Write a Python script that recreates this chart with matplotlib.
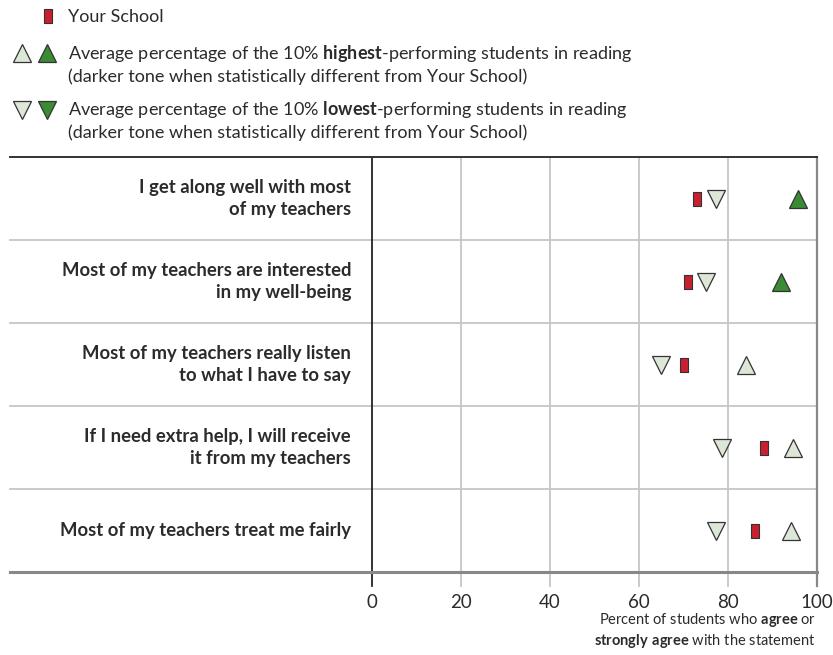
import matplotlib
matplotlib.use("Agg")
import matplotlib.pyplot as plt
from matplotlib.path import Path

plt.rcParams["font.family"] = ["Lato", "DejaVu Sans"]
plt.rcParams["mathtext.fontset"] = "custom"
plt.rcParams["mathtext.rm"] = "Lato"
plt.rcParams["mathtext.bf"] = "Lato:bold"

# data
statements = [
    "I get along well with most\nof my teachers",
    "Most of my teachers are interested\nin my well-being",
    "Most of my teachers really listen\nto what I have to say",
    "If I need extra help, I will receive\nit from my teachers",
    "Most of my teachers treat me fairly",
]
your_school = [73.0, 71.1, 70.0, 88.0, 86.0]
top10 = [95.7, 91.8, 84.0, 94.6, 94.1]
bottom10 = [77.4, 75.1, 64.9, 78.7, 77.2]
top10_sig = [True, True, False, False, False]
bottom10_sig = [False, False, False, False, False]
xticks = [0, 20, 40, 60, 80, 100]

RED = "#c8202f"
LIGHT = "#dde7d7"
DARK = "#3b8a34"
EDGE = "#333333"
GRID = "#c4c8c4"
TXT = "#2b2b2b"

W, H = 833, 655
fig = plt.figure(figsize=(W / 100, H / 100), dpi=100)

# main axes: x 372..817 px, y 157..572 px
ax = fig.add_axes([372 / W, 1 - 572 / H, 445 / W, 415 / H])
ax.set_xlim(0, 100)
ax.set_ylim(len(statements), 0)
ax.axis("off")

rect = Path([(-0.27, -0.5), (0.27, -0.5), (0.27, 0.5), (-0.27, 0.5), (-0.27, -0.5)],
            [Path.MOVETO, Path.LINETO, Path.LINETO, Path.LINETO, Path.CLOSEPOLY])

left = (10 - 372) / 445
n = len(statements)
tick_len = 0.17

# row separators
for i in range(1, n):
    ax.plot([left, 1], [i, i], transform=ax.get_yaxis_transform(), color=GRID, lw=1.3,
            clip_on=False, zorder=1)
ax.plot([left, 1], [0, 0], transform=ax.get_yaxis_transform(), color="#333333", lw=1.4,
        clip_on=False, zorder=2)
ax.plot([left, 1], [n, n], transform=ax.get_yaxis_transform(), color="#888888", lw=2.2,
        clip_on=False, zorder=2)

# vertical grid lines with tick stubs
for t in xticks:
    if t == 0:
        c, lw = "#111111", 1.2
    elif t == 100:
        c, lw = "#888888", 1.6
    else:
        c, lw = GRID, 1.3
    ax.plot([t, t], [0, n + tick_len], color=c, lw=lw, clip_on=False, zorder=1.5)
    ax.text(t, n + 0.37, str(t), ha="center", va="center", fontsize=13.5, color=TXT)

for i, s in enumerate(statements):
    y = i + 0.5
    ax.text(-0.047, y, s, transform=ax.get_yaxis_transform(), ha="right", va="center",
            multialignment="right", fontsize=13.3, fontweight="bold", color=TXT,
            linespacing=1.3)
    ax.plot(your_school[i], y, marker=rect, ms=15 / 1.389, mfc=RED, mec=EDGE, mew=0.8,
            ls="none", zorder=5)
    ax.plot(top10[i], y, marker="^", ms=13, mfc=DARK if top10_sig[i] else LIGHT,
            mec=EDGE, mew=0.9, ls="none", zorder=5)
    ax.plot(bottom10[i], y, marker="v", ms=13, mfc=DARK if bottom10_sig[i] else LIGHT,
            mec=EDGE, mew=0.9, ls="none", zorder=5)

# x axis caption
fig.text(816 / W, 1 - 620 / H, r"Percent of students who $\mathbf{agree}$ or",
         ha="right", va="center", fontsize=10.5, color=TXT)
fig.text(816 / W, 1 - 641 / H, r"$\mathbf{strongly\ agree}$ with the statement",
         ha="right", va="center", fontsize=10.5, color=TXT)

# legend, drawn in pixel coordinates
lax = fig.add_axes([0, 0, 1, 1])
lax.set_xlim(0, W)
lax.set_ylim(H, 0)
lax.axis("off")
lax.patch.set_alpha(0)

lax.plot(48, 16, marker=rect, ms=15 / 1.389, mfc=RED, mec=EDGE, mew=0.8, ls="none")
lax.text(68, 17, "Your School", ha="left", va="center", fontsize=13, color=TXT)

lax.plot(22, 53, marker="^", ms=13, mfc=LIGHT, mec=EDGE, mew=0.9, ls="none")
lax.plot(47, 53, marker="^", ms=13, mfc=DARK, mec=EDGE, mew=0.9, ls="none")
lax.text(68, 54, r"Average percentage of the 10% $\mathbf{highest}$-performing students in reading",
         ha="left", va="center", fontsize=13, color=TXT)
lax.text(68, 77, "(darker tone when statistically different from Your School)",
         ha="left", va="center", fontsize=13, color=TXT)

lax.plot(22, 110, marker="v", ms=13, mfc=LIGHT, mec=EDGE, mew=0.9, ls="none")
lax.plot(47, 110, marker="v", ms=13, mfc=DARK, mec=EDGE, mew=0.9, ls="none")
lax.text(68, 110, r"Average percentage of the 10% $\mathbf{lowest}$-performing students in reading",
         ha="left", va="center", fontsize=13, color=TXT)
lax.text(68, 133, "(darker tone when statistically different from Your School)",
         ha="left", va="center", fontsize=13, color=TXT)

fig.savefig("out.png", dpi=100)
